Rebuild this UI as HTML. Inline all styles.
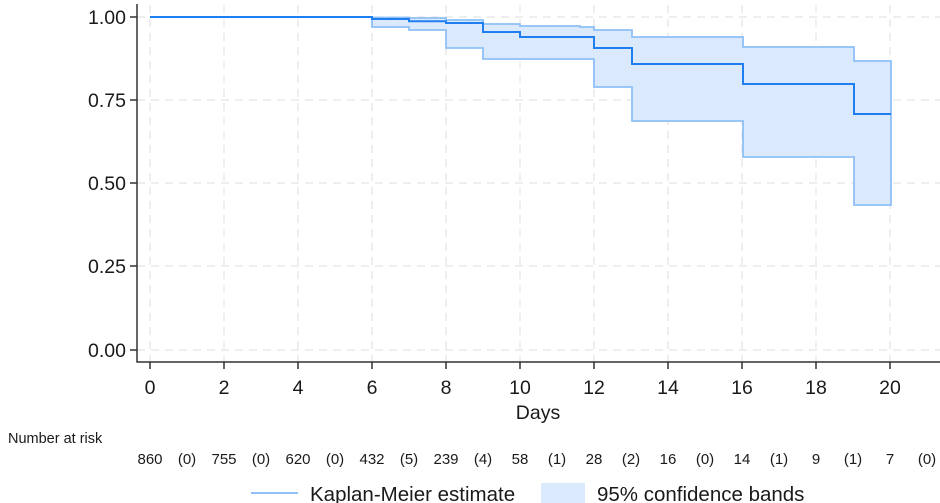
<!DOCTYPE html>
<html><head><style>body{margin:0;background:#fff}svg{display:block}text{font-family:"Liberation Sans",Arial,sans-serif;fill:#1a1a1a}</style></head><body>
<svg width="940" height="503" viewBox="0 0 940 503">
<g stroke="#e4e4e4" stroke-width="1.3" stroke-dasharray="8,6">
<line x1="137" y1="17" x2="940" y2="17"/><line x1="137" y1="100" x2="940" y2="100"/><line x1="137" y1="183" x2="940" y2="183"/><line x1="137" y1="266" x2="940" y2="266"/><line x1="137" y1="350" x2="940" y2="350"/>
<line x1="150" y1="5" x2="150" y2="362"/><line x1="224" y1="5" x2="224" y2="362"/><line x1="298" y1="5" x2="298" y2="362"/><line x1="372" y1="5" x2="372" y2="362"/><line x1="446" y1="5" x2="446" y2="362"/><line x1="520" y1="5" x2="520" y2="362"/><line x1="594" y1="5" x2="594" y2="362"/><line x1="668" y1="5" x2="668" y2="362"/><line x1="742" y1="5" x2="742" y2="362"/><line x1="816" y1="5" x2="816" y2="362"/><line x1="890" y1="5" x2="890" y2="362"/>
</g>
<path d="M372,17.5 H409 V18 H446 V20 H483 V24 H520 V26 H580 V27 H594 V30 H632 V37 H743 V47 H854 V61 H891 V205 H854 V157 H743 V121 H632 V87 H594 V59 H483 V48 H446 V30 H409 V27 H372 V22 Z" fill="#dbe9fc" stroke="#8fc0f7" stroke-width="1.8"/>
<path d="M150,17 H372 V19 H409 V21.3 H446 V23 H483 V32 H520 V37 H594 V48 H632 V64 H743 V84 H854 V114 H891" fill="none" stroke="#1f7ff0" stroke-width="2"/>
<g stroke="#333" stroke-width="1.5" fill="none">
<path d="M137,4 V362 H940"/>
<path d="M130,17 H137 M130,100 H137 M130,183 H137 M130,266 H137 M130,350 H137"/>
<path d="M150,362 V369 M224,362 V369 M298,362 V369 M372,362 V369 M446,362 V369 M520,362 V369 M594,362 V369 M668,362 V369 M742,362 V369 M816,362 V369 M890,362 V369"/>
</g>
<g font-size="19.5" text-anchor="end">
<text x="126" y="24">1.00</text><text x="126" y="107">0.75</text><text x="126" y="190">0.50</text><text x="126" y="273">0.25</text><text x="126" y="357">0.00</text>
</g>
<g font-size="19.5" text-anchor="middle">
<text x="150" y="394">0</text><text x="224" y="394">2</text><text x="298" y="394">4</text><text x="372" y="394">6</text><text x="446" y="394">8</text><text x="520" y="394">10</text><text x="594" y="394">12</text><text x="668" y="394">14</text><text x="742" y="394">16</text><text x="816" y="394">18</text><text x="890" y="394">20</text>
<text x="538" y="419">Days</text>
</g>
<text x="8" y="443" font-size="14.5">Number at risk</text>
<g font-size="15" text-anchor="middle">
<text x="150" y="464">860</text><text x="187" y="464">(0)</text><text x="224" y="464">755</text><text x="261" y="464">(0)</text><text x="298" y="464">620</text><text x="335" y="464">(0)</text><text x="372" y="464">432</text><text x="409" y="464">(5)</text><text x="446" y="464">239</text><text x="483" y="464">(4)</text><text x="520" y="464">58</text><text x="557" y="464">(1)</text><text x="594" y="464">28</text><text x="631" y="464">(2)</text><text x="668" y="464">16</text><text x="705" y="464">(0)</text><text x="742" y="464">14</text><text x="779" y="464">(1)</text><text x="816" y="464">9</text><text x="853" y="464">(1)</text><text x="890" y="464">7</text><text x="927" y="464">(0)</text>
</g>
<line x1="251" y1="493" x2="298" y2="493" stroke="#8fc0f7" stroke-width="2"/>
<text x="310" y="501" font-size="20.5">Kaplan-Meier estimate</text>
<rect x="541" y="483" width="44" height="22" fill="#dbe9fc"/>
<text x="597" y="501" font-size="20.5">95% confidence bands</text>
</svg>
</body></html>
